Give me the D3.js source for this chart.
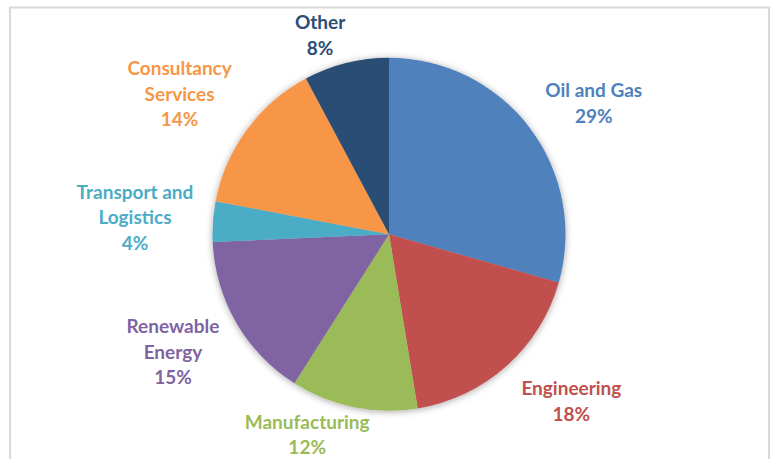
<!DOCTYPE html>
<html>
<head>
<meta charset="utf-8">
<script src="https://cdn.jsdelivr.net/npm/d3@7"></script>
<style>
  html, body { margin: 0; padding: 0; background: #ffffff; }
  svg { display: block; }
</style>
</head>
<body>
<div id="chart"></div>
<script>
// ---- data ----
const categories = ["Oil and Gas", "Engineering", "Manufacturing", "Renewable Energy", "Transport and Logistics", "Consultancy Services", "Other"];
const shares = [29.4, 18.0, 11.6, 15.3, 3.7, 14.2, 7.8];
const percentLabels = ["29%", "18%", "12%", "15%", "4%", "14%", "8%"];
const labelLines = [["Oil and Gas"], ["Engineering"], ["Manufacturing"], ["Renewable", "Energy"], ["Transport and", "Logistics"], ["Consultancy", "Services"], ["Other"]];

// ---- layout / style ----
const W = 774, H = 459;
const cx = 389, cy = 234.3, R = 176.5;
const colors = ["#4F81BD", "#C0504D", "#9BBB59", "#8064A2", "#4BACC6", "#F79646", "#2C4D75"];
// label placement: polar (degrees clockwise from top, distance from pie centre)
const labelPolar = [[57.4, 243], [132.5, 247.4], [202.2, 216.6], [241.4, 246.1], [273.8, 254.6], [303.8, 252], [340.9, 210.6]];
const lineH = 25.5;

const svg = d3.select("#chart").append("svg").attr("width", W).attr("height", H);

// frame
svg.append("rect").attr("x", 10).attr("y", 7.5).attr("width", 759).attr("height", 480)
  .attr("fill", "#fff").attr("stroke", "#d9d9d9").attr("stroke-width", 2);

const defs = svg.append("defs");
const f = defs.append("filter").attr("id", "shadow").attr("x", "-20%").attr("y", "-20%").attr("width", "140%").attr("height", "140%");
f.append("feDropShadow").attr("dx", 0).attr("dy", 1).attr("stdDeviation", 3.5)
  .attr("flood-color", "#000").attr("flood-opacity", 0.35);

const pie = d3.pie().sort(null).value(d => d);
const arcs = pie(shares);
const arc = d3.arc().innerRadius(0).outerRadius(R);

const g = svg.append("g").attr("transform", `translate(${cx},${cy})`);
const slices = g.append("g").attr("filter", "url(#shadow)");
slices.selectAll("path").data(arcs).join("path")
  .attr("d", arc)
  .attr("fill", (d, i) => colors[i]);

// labels
const lbl = g.selectAll("text.lbl").data(arcs).join("text")
  .attr("class", "lbl")
  .attr("text-anchor", "middle")
  .attr("font-family", "Lato, 'Open Sans', sans-serif")
  .attr("font-weight", "bold")
  .attr("font-size", 19)
  .attr("fill", (d, i) => colors[i]);

lbl.each(function(d, i) {
  const lines = labelLines[i].concat([percentLabels[i]]);
  const a = labelPolar[i][0] * Math.PI / 180, r = labelPolar[i][1];
  const x = r * Math.sin(a), y = -r * Math.cos(a);
  const y0 = y - (lines.length - 1) * lineH / 2;
  d3.select(this).selectAll("tspan").data(lines).join("tspan")
    .attr("x", x)
    .attr("y", (t, k) => y0 + k * lineH)
    .attr("dy", "0.35em")
    .text(t => t);
});
</script>
</body>
</html>
